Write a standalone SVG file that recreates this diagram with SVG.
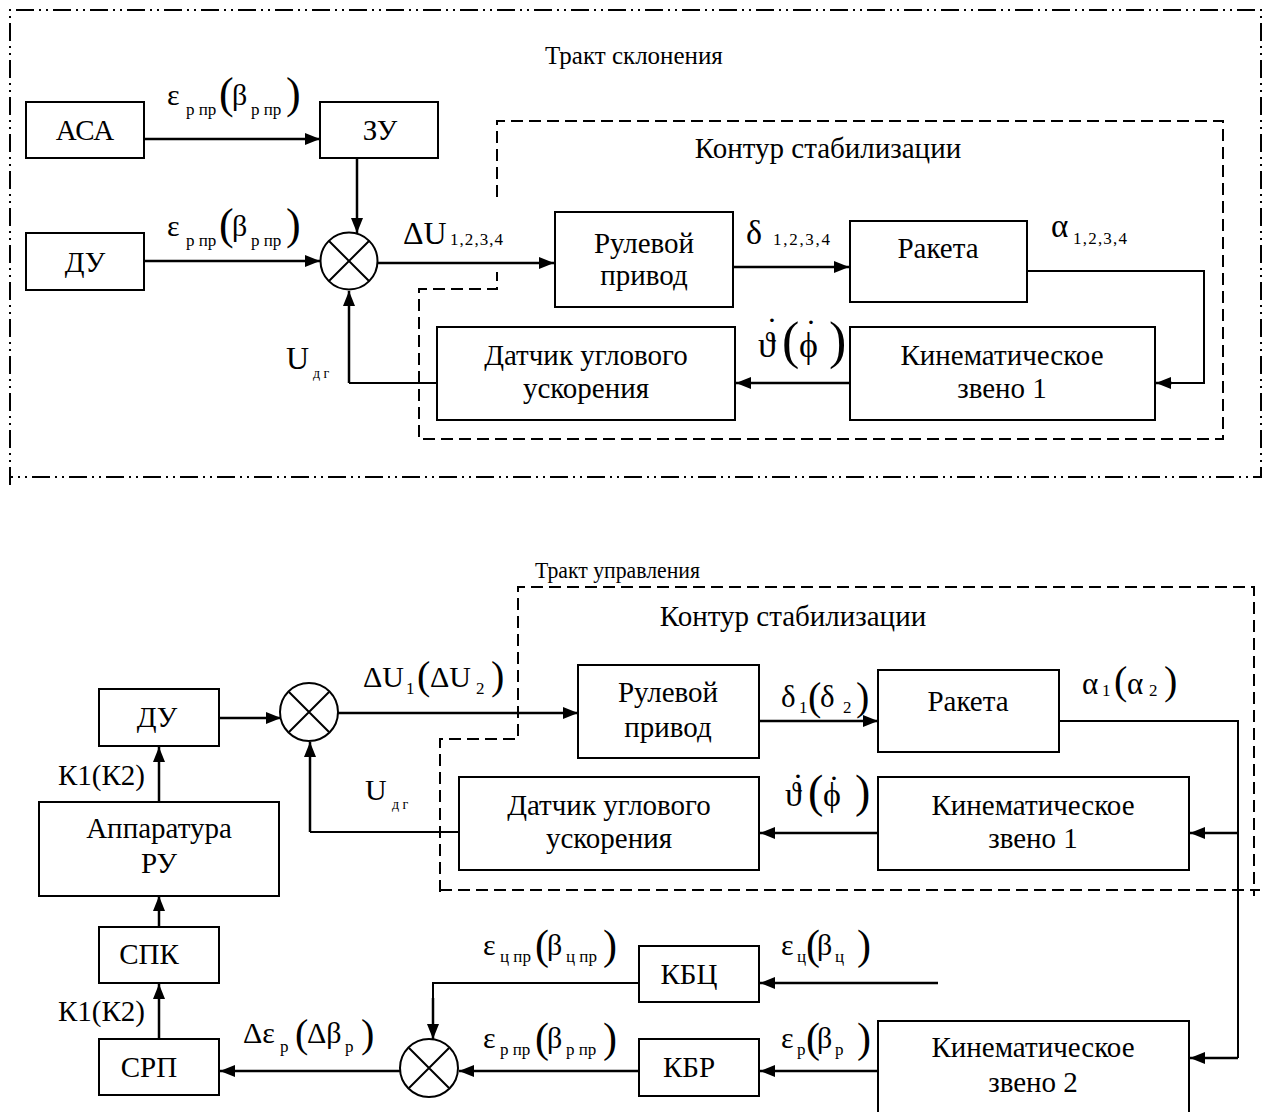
<svg xmlns="http://www.w3.org/2000/svg" width="1263" height="1112" viewBox="0 0 1263 1112">
<style>
text{font-family:"Liberation Serif","Times New Roman",serif;fill:#000}
.t{font-size:29px;text-anchor:middle}
.h{font-size:25px}
.g{font-size:30px}
.s{font-size:17px}
.p{font-size:44px}
.box{fill:#fff;stroke:#000;stroke-width:2}
.c{fill:none;stroke:#000;stroke-width:2.5}
.l{fill:none;stroke:#000;stroke-width:2}
.dash{fill:none;stroke:#000;stroke-width:2;stroke-dasharray:12 6}
.dd{fill:none;stroke:#000;stroke-width:2;stroke-dasharray:18 5 2 5 2 5}
.sum{fill:#fff;stroke:#000;stroke-width:2}
</style>
<defs>
<marker id="a" markerUnits="userSpaceOnUse" markerWidth="15" markerHeight="12" refX="15" refY="6" orient="auto"><path d="M0,0 L15,6 L0,12 z" fill="#000"/></marker>
</defs>

<g id="frames">
<path class="dd" d="M10,485 L10,10 L1261,10 L1261,477 L10,477"/>
<path class="dash" d="M497,197 L497,121 L1223,121 L1223,439 L419,439 L419,289 L497,289 L497,272"/>
<path class="dash" d="M440,892 L440,739 L518,739 L518,587 L1254,587 L1254,896"/>
<path class="dash" d="M440,890 L1260,890"/>
</g>

<text class="h" x="545" y="64">Тракт склонения</text>
<text class="t" x="828" y="158">Контур стабилизации</text>
<text class="h" style="font-size:24px" x="535" y="578" textLength="165" lengthAdjust="spacingAndGlyphs">Тракт управления</text>
<text class="t" x="793" y="626">Контур стабилизации</text>

<g id="connectors">
<path class="c" d="M144,139 L320,139" marker-end="url(#a)"/>
<path class="c" d="M144,261 L320,261" marker-end="url(#a)"/>
<path class="c" d="M357,158 L357,233" marker-end="url(#a)"/>
<path class="c" d="M378,263 L554,263" marker-end="url(#a)"/>
<path class="c" d="M733,267 L849,267" marker-end="url(#a)"/>
<path class="l" d="M1027,271 L1204,271 L1204,383 L1170,383"/>
<path class="c" d="M1172,383 L1156,383" marker-end="url(#a)"/>
<path class="c" d="M850,383 L736,383" marker-end="url(#a)"/>
<path class="l" d="M437,383 L349,383"/>
<path class="c" d="M349,383 L349,291" marker-end="url(#a)"/>

<path class="c" d="M220,718 L281,718" marker-end="url(#a)"/>
<path class="c" d="M338,713 L578,713" marker-end="url(#a)"/>
<path class="c" d="M759,721 L878,721" marker-end="url(#a)"/>
<path class="l" d="M1059,721 L1238,721 L1238,1058"/>
<path class="c" d="M1238,1058 L1190,1058" marker-end="url(#a)"/>
<path class="c" d="M1238,833 L1190,833" marker-end="url(#a)"/>
<path class="c" d="M878,833 L760,833" marker-end="url(#a)"/>
<path class="l" d="M459,832 L310,832"/>
<path class="c" d="M310,832 L310,742" marker-end="url(#a)"/>
<path class="c" d="M159,802 L159,747" marker-end="url(#a)"/>
<path class="c" d="M159,927 L159,896" marker-end="url(#a)"/>
<path class="c" d="M159,1039 L159,984" marker-end="url(#a)"/>
<path class="c" d="M938,983 L760,983" marker-end="url(#a)"/>
<path class="l" d="M639,983 L433,983 L433,1000"/>
<path class="c" d="M433,998 L433,1039" marker-end="url(#a)"/>
<path class="c" d="M878,1071 L760,1071" marker-end="url(#a)"/>
<path class="c" d="M639,1071 L459,1071" marker-end="url(#a)"/>
<path class="c" d="M400,1071 L220,1071" marker-end="url(#a)"/>
</g>

<g id="asa"><rect class="box" x="26" y="102" width="118" height="56"/><text class="t" x="85" y="140">АСА</text></g>
<g id="zu"><rect class="box" x="320" y="102" width="118" height="56"/><text class="t" x="380" y="140">ЗУ</text></g>
<g id="du1"><rect class="box" x="26" y="233" width="118" height="57"/><text class="t" x="85" y="272">ДУ</text></g>
<g id="sum1"><circle class="sum" cx="349" cy="261" r="28.5"/><path class="l" d="M329,241 L369,281 M369,241 L329,281"/></g>
<g id="rp1"><rect class="box" x="555" y="212" width="178" height="95"/><text class="t" x="644" y="253">Рулевой</text><text class="t" x="644" y="285">привод</text></g>
<g id="raketa1"><rect class="box" x="850" y="221" width="177" height="81"/><text class="t" x="938" y="258">Ракета</text></g>
<g id="kz1a"><rect class="box" x="850" y="327" width="305" height="93"/><text class="t" x="1002" y="365">Кинематическое</text><text class="t" x="1002" y="398">звено 1</text></g>
<g id="dat1"><rect class="box" x="437" y="327" width="298" height="93"/><text class="t" x="586" y="365">Датчик углового</text><text class="t" x="586" y="398">ускорения</text></g>

<g id="lab-top">
<text class="g" y="105"><tspan x="167">ε</tspan><tspan class="s" x="186" y="115">р пр</tspan><tspan class="p" x="219" y="108">(</tspan><tspan x="232" y="105">β</tspan><tspan class="s" x="251" y="115">р пр</tspan><tspan class="p" x="286" y="108">)</tspan></text>
<text class="g" y="236"><tspan x="167">ε</tspan><tspan class="s" x="186" y="246">р пр</tspan><tspan class="p" x="219" y="239">(</tspan><tspan x="232" y="236">β</tspan><tspan class="s" x="251" y="246">р пр</tspan><tspan class="p" x="286" y="239">)</tspan></text>
<text class="g" style="font-size:32px" x="403" y="244">ΔU<tspan class="s" x="450" y="245" textLength="53">1,2,3,4</tspan></text>
<text class="g" style="font-size:34px" x="746" y="244">δ<tspan class="s" x="773" y="245" textLength="57">1,2,3,4</tspan></text>
<text class="g" style="font-size:33px" x="1051" y="237">α<tspan class="s" x="1073" y="244" textLength="54">1,2,3,4</tspan></text>
<text class="g" style="font-size:32px" x="286" y="369">U<tspan class="s" style="font-size:14px" x="313" y="378">д г</tspan></text>
<text class="g" style="font-size:36px" y="357"><tspan x="758">ϑ</tspan><tspan class="p" style="font-size:52px" x="782" y="358">(</tspan><tspan x="799" y="357">ϕ</tspan><tspan class="p" style="font-size:52px" x="829" y="358">)</tspan></text>
<text class="g" style="font-size:34px" x="772" y="341" text-anchor="middle">˙</text>
<text class="g" style="font-size:34px" x="811" y="343" text-anchor="middle">˙</text>
</g>

<g id="du2"><rect class="box" x="99" y="689" width="120" height="57"/><text class="t" x="157" y="727">ДУ</text></g>
<g id="sum2"><circle class="sum" cx="309" cy="712" r="29"/><path class="l" d="M289,692 L329,732 M329,692 L289,732"/></g>
<g id="apr"><rect class="box" x="39" y="802" width="240" height="94"/><text class="t" x="159" y="838">Аппаратура</text><text class="t" x="159" y="873">РУ</text></g>
<g id="spk"><rect class="box" x="99" y="927" width="120" height="56"/><text class="t" x="149" y="964">СПК</text></g>
<g id="srp"><rect class="box" x="99" y="1039" width="120" height="56"/><text class="t" x="149" y="1077">СРП</text></g>
<g id="rp2"><rect class="box" x="578" y="665" width="181" height="93"/><text class="t" x="668" y="702">Рулевой</text><text class="t" x="668" y="737">привод</text></g>
<g id="raketa2"><rect class="box" x="878" y="670" width="181" height="82"/><text class="t" x="968" y="711">Ракета</text></g>
<g id="dat2"><rect class="box" x="459" y="777" width="300" height="93"/><text class="t" x="609" y="815">Датчик углового</text><text class="t" x="609" y="848">ускорения</text></g>
<g id="kz1b"><rect class="box" x="878" y="777" width="311" height="93"/><text class="t" x="1033" y="815">Кинематическое</text><text class="t" x="1033" y="848">звено 1</text></g>
<g id="kbc"><rect class="box" x="639" y="946" width="120" height="56"/><text class="t" x="689" y="984">КБЦ</text></g>
<g id="kbr"><rect class="box" x="639" y="1039" width="120" height="57"/><text class="t" x="689" y="1077">КБР</text></g>
<g id="sum3"><circle class="sum" cx="429" cy="1068" r="29"/><path class="l" d="M409,1048 L449,1088 M449,1048 L409,1088"/></g>
<g id="kz2"><rect class="box" x="878" y="1021" width="311" height="100"/><text class="t" x="1033" y="1057">Кинематическое</text><text class="t" x="1033" y="1092">звено 2</text></g>

<g id="lab-bot">
<text class="g" y="687"><tspan x="363">ΔU</tspan><tspan class="s" x="406" y="694">1</tspan><tspan class="p" style="font-size:40px" x="417" y="689">(</tspan><tspan x="430" y="687">ΔU</tspan><tspan class="s" x="476" y="694">2</tspan><tspan class="p" style="font-size:40px" x="491" y="689">)</tspan></text>
<text class="g" style="font-size:31px" y="707"><tspan x="781">δ</tspan><tspan class="s" x="799" y="713">1</tspan><tspan class="p" style="font-size:40px" x="808" y="710">(</tspan><tspan x="820" y="707">δ</tspan><tspan class="s" x="843" y="713">2</tspan><tspan class="p" style="font-size:40px" x="856" y="710">)</tspan></text>
<text class="g" style="font-size:31px" y="694"><tspan x="1082">α</tspan><tspan class="s" x="1102" y="696">1</tspan><tspan class="p" style="font-size:40px" x="1114" y="694">(</tspan><tspan x="1127" y="694">α</tspan><tspan class="s" x="1149" y="696">2</tspan><tspan class="p" style="font-size:40px" x="1164" y="694">)</tspan></text>
<text class="g" x="365" y="800">U<tspan class="s" style="font-size:14px" x="392" y="809">д г</tspan></text>
<text class="g" style="font-size:34px" y="806"><tspan x="785">ϑ</tspan><tspan class="p" style="font-size:46px" x="808" y="807">(</tspan><tspan x="823" y="806">ϕ</tspan><tspan class="p" style="font-size:46px" x="855" y="807">)</tspan></text>
<text class="g" style="font-size:34px" x="798" y="797" text-anchor="middle">˙</text>
<text class="g" style="font-size:34px" x="834" y="799" text-anchor="middle">˙</text>
<text class="g" style="font-size:29px" x="58" y="785">К1(К2)</text>
<text class="g" style="font-size:29px" x="58" y="1021">К1(К2)</text>
<text class="g" y="1043"><tspan x="243">Δε</tspan><tspan class="s" x="280" y="1052">р</tspan><tspan class="p" style="font-size:40px" x="295" y="1047">(</tspan><tspan x="307" y="1043">Δβ</tspan><tspan class="s" x="345" y="1052">р</tspan><tspan class="p" style="font-size:40px" x="361" y="1047">)</tspan></text>
<text class="g" y="955"><tspan x="483">ε</tspan><tspan class="s" x="500" y="962">ц пр</tspan><tspan class="p" style="font-size:42px" x="535" y="959">(</tspan><tspan x="547" y="955">β</tspan><tspan class="s" x="566" y="962">ц пр</tspan><tspan class="p" style="font-size:42px" x="603" y="959">)</tspan></text>
<text class="g" y="1048"><tspan x="483">ε</tspan><tspan class="s" x="500" y="1055">р пр</tspan><tspan class="p" style="font-size:42px" x="535" y="1052">(</tspan><tspan x="547" y="1048">β</tspan><tspan class="s" x="566" y="1055">р пр</tspan><tspan class="p" style="font-size:42px" x="603" y="1052">)</tspan></text>
<text class="g" y="955"><tspan x="781">ε</tspan><tspan class="s" x="797" y="962">ц</tspan><tspan class="p" style="font-size:42px" x="806" y="959">(</tspan><tspan x="817" y="955">β</tspan><tspan class="s" x="835" y="962">ц</tspan><tspan class="p" style="font-size:42px" x="857" y="959">)</tspan></text>
<text class="g" y="1048"><tspan x="781">ε</tspan><tspan class="s" x="797" y="1055">р</tspan><tspan class="p" style="font-size:42px" x="806" y="1052">(</tspan><tspan x="817" y="1048">β</tspan><tspan class="s" x="835" y="1055">р</tspan><tspan class="p" style="font-size:42px" x="857" y="1052">)</tspan></text>
</g>
</svg>
